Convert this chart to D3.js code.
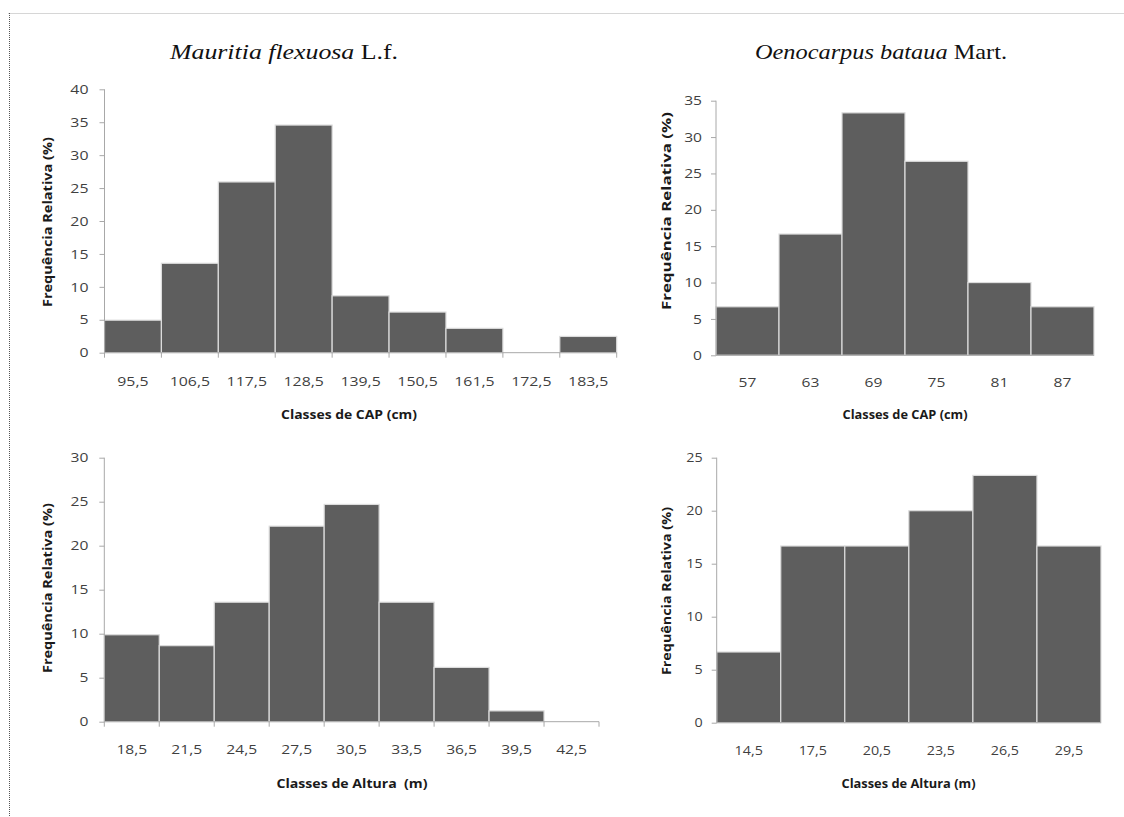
<!DOCTYPE html>
<html>
<head>
<meta charset="utf-8">
<script src="https://cdn.jsdelivr.net/npm/d3@7"></script>
<style>
  body { margin: 0; background: #fff; }
  svg { display: block; }
</style>
</head>
<body>
<svg id="chart" width="1124" height="817"></svg>
<script>
/*
Data (relative frequency, %)
*/

// Mauritia flexuosa - CAP classes
const mfCapClasses = ["95,5", "106,5", "117,5", "128,5", "139,5", "150,5", "161,5", "172,5", "183,5"];
const mfCapFreq = [4.94, 13.58, 25.93, 34.57, 8.64, 6.17, 3.70, 0, 2.47];

// Oenocarpus bataua - CAP classes
const obCapClasses = ["57", "63", "69", "75", "81", "87"];
const obCapFreq = [6.67, 16.67, 33.33, 26.67, 10.0, 6.67];

// Mauritia flexuosa - height classes
const mfAltClasses = ["18,5", "21,5", "24,5", "27,5", "30,5", "33,5", "36,5", "39,5", "42,5"];
const mfAltFreq = [9.88, 8.64, 13.58, 22.22, 24.69, 13.58, 6.17, 1.23, 0];

// Oenocarpus bataua - height classes
const obAltClasses = ["14,5", "17,5", "20,5", "23,5", "26,5", "29,5"];
const obAltFreq = [6.67, 16.67, 16.67, 20.0, 23.33, 16.67];

// y axis maxima
const yMaxes = [40, 35, 30, 25];

const barColor = '#5e5e5e';
const barEdge = '#dcdcdc';
const axisColor = '#a8a8a8';
const labelColor = '#3f3f3f';
const sansFont = '"Open Sans", sans-serif';

var svg = d3.select('#chart');

/*
Page frame
*/
svg.append('line')
	.attr('x1', 8).attr('x2', 1124)
	.attr('y1', 13.5).attr('y2', 13.5)
	.attr('stroke', '#d6d6d6');
svg.append('line')
	.attr('x1', 9.5).attr('x2', 9.5)
	.attr('y1', 13).attr('y2', 817)
	.attr('stroke', '#555')
	.attr('stroke-dasharray', '1,1');

/*
Species titles (the figure is a bit wider than it is tall, so texts get a fixed length)
*/
function speciesTitle(x, len, name, author){
	var t = svg.append('text')
		.attr('x', x - len / 2).attr('y', 59)
		.attr('textLength', len)
		.attr('lengthAdjust', 'spacingAndGlyphs')
		.attr('font-family', '"Liberation Serif", "DejaVu Serif", serif')
		.attr('font-size', 22)
		.attr('fill', '#111');
	t.append('tspan').attr('font-style', 'italic').text(name);
	t.append('tspan').text(' ' + author);
}
speciesTitle(284, 228, 'Mauritia flexuosa', 'L.f.');
speciesTitle(881, 252, 'Oenocarpus bataua', 'Mart.');

/*
Panel layout
*/
var panels = [
	{ classes: mfCapClasses, freq: mfCapFreq, yMax: yMaxes[0],
	  x0: 104.5, x1: 616.7, yBase: 352.7, yTop: 89.3, xTicks: true,
	  tickY: 386, stretch: 1.22, labelGap: 16,
	  xTitle: 'Classes de CAP (cm)', xTitleX: 349, xTitleY: 419, xTitleLen: 136,
	  yTitle: 'Frequência Relativa (%)', yTitleX: 48, yTitleY: 222, yTitleLen: 170 },
	{ classes: obCapClasses, freq: obCapFreq, yMax: yMaxes[1],
	  x0: 716, x1: 1094, yBase: 355.3, yTop: 100.7, xTicks: false,
	  tickY: 387, stretch: 1.2, labelGap: 14,
	  xTitle: 'Classes de CAP (cm)', xTitleX: 905, xTitleY: 419, xTitleLen: 125,
	  yTitle: 'Frequência Relativa (%)', yTitleX: 667, yTitleY: 211, yTitleLen: 198 },
	{ classes: mfAltClasses, freq: mfAltFreq, yMax: yMaxes[2],
	  x0: 104.3, x1: 599, yBase: 721.7, yTop: 457.7, xTicks: true,
	  tickY: 754, stretch: 1.2, labelGap: 16,
	  xTitle: 'Classes de Altura  (m)', xTitleX: 352, xTitleY: 788, xTitleLen: 151,
	  yTitle: 'Frequência Relativa (%)', yTitleX: 48, yTitleY: 588, yTitleLen: 170 },
	{ classes: obAltClasses, freq: obAltFreq, yMax: yMaxes[3],
	  x0: 716.7, x1: 1101, yBase: 722.7, yTop: 457.7, xTicks: false,
	  tickY: 755, stretch: 1.1, labelGap: 14,
	  xTitle: 'Classes de Altura (m)', xTitleX: 908.5, xTitleY: 788, xTitleLen: 134,
	  yTitle: 'Frequência Relativa (%)', yTitleX: 667, yTitleY: 591, yTitleLen: 168 }
];

function drawPanel(p){
	var g = svg.append('g');

	var x = d3.scaleBand()
		.domain(p.classes)
		.range([p.x0, p.x1])
		.padding(0);

	var y = d3.scaleLinear()
		.domain([0, p.yMax])
		.range([p.yBase, p.yTop]);

	// bars
	g.selectAll('rect')
		.data(p.classes.map(function(c, i){ return { cls: c, v: p.freq[i] }; }))
		.enter().append('rect')
			.attr('x', function(d){ return x(d.cls); })
			.attr('y', function(d){ return y(d.v); })
			.attr('width', x.bandwidth())
			.attr('height', function(d){ return y(0) - y(d.v); })
			.attr('fill', barColor)
			.attr('stroke', barEdge)
			.attr('stroke-width', 1.2);

	// y axis
	var yAxis = g.append('g')
		.attr('transform', 'translate(' + p.x0 + ',0)')
		.call(d3.axisLeft(y).ticks(p.yMax / 5).tickSize(5));
	yAxis.selectAll('path, line').attr('stroke', axisColor);
	yAxis.select('.domain').attr('d', 'M0,' + p.yBase + 'V' + p.yTop);
	yAxis.selectAll('text')
		.attr('x', 0)
		.attr('transform', 'translate(' + (-p.labelGap) + ',0) scale(' + p.stretch + ',1)')
		.attr('font-family', sansFont)
		.attr('font-size', 13)
		.attr('fill', labelColor);

	// x axis line
	g.append('line')
		.attr('x1', p.x0).attr('x2', p.x1)
		.attr('y1', p.yBase).attr('y2', p.yBase)
		.attr('stroke', axisColor);

	// category separators below the axis
	if(p.xTicks){
		var edges = p.classes.map(function(c){ return x(c); }).concat([p.x1]);
		g.selectAll('line.edge')
			.data(edges)
			.enter().append('line')
				.attr('class', 'edge')
				.attr('x1', function(d){ return d; })
				.attr('x2', function(d){ return d; })
				.attr('y1', p.yBase).attr('y2', p.yBase + 5)
				.attr('stroke', axisColor);
	}

	// category labels
	g.selectAll('text.cat')
		.data(p.classes)
		.enter().append('text')
			.attr('class', 'cat')
			.attr('transform', function(d){
				return 'translate(' + (x(d) + x.bandwidth() / 2) + ',' + p.tickY + ') scale(' + p.stretch + ',1)';
			})
			.attr('text-anchor', 'middle')
			.attr('font-family', sansFont)
			.attr('font-size', 13)
			.attr('fill', labelColor)
			.text(function(d){ return d; });

	// axis titles
	g.append('text')
		.attr('x', p.xTitleX - p.xTitleLen / 2).attr('y', p.xTitleY)
		.attr('textLength', p.xTitleLen)
		.attr('lengthAdjust', 'spacingAndGlyphs')
		.attr('font-family', sansFont)
		.attr('font-weight', 'bold')
		.attr('font-size', 12.5)
		.attr('fill', '#1a1a1a')
		.attr('xml:space', 'preserve')
		.style('white-space', 'pre')
		.text(p.xTitle);

	g.append('text')
		.attr('transform', 'translate(' + p.yTitleX + ',' + p.yTitleY + ') rotate(-90)')
		.attr('x', -p.yTitleLen / 2)
		.attr('dy', '0.35em')
		.attr('textLength', p.yTitleLen)
		.attr('lengthAdjust', 'spacingAndGlyphs')
		.attr('font-family', sansFont)
		.attr('font-weight', 'bold')
		.attr('font-size', 12.5)
		.attr('fill', '#1a1a1a')
		.text(p.yTitle);
}

panels.forEach(drawPanel);
</script>
</body>
</html>
